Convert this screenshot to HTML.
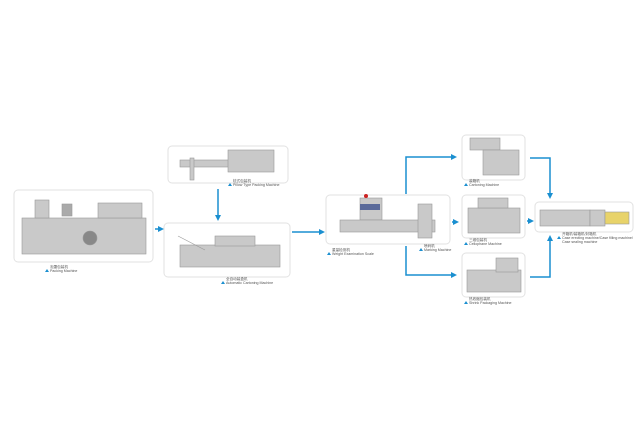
<!DOCTYPE html>
<html><head><meta charset="utf-8"><style>
html,body{margin:0;padding:0;background:#fff;}
svg{display:block;}
text{font-family:"Liberation Sans","Noto Sans CJK SC",sans-serif;font-size:3.6px;fill:#555;}
</style></head><body>
<svg width="640" height="440" viewBox="0 0 640 440" xmlns="http://www.w3.org/2000/svg">
<defs>
<marker id="a" markerWidth="6" markerHeight="6" refX="4" refY="3" orient="auto" markerUnits="userSpaceOnUse"><path d="M0,0 L6,3 L0,6 Z" fill="#1a8fd0"/></marker>
</defs>
<g fill="#fff" stroke="#e2e2e2" stroke-width="1">
<rect x="14" y="190" width="139" height="72" rx="4"/>
<rect x="168" y="146" width="120" height="37" rx="4"/>
<rect x="164" y="223" width="126" height="54" rx="4"/>
<rect x="326" y="195" width="124" height="49" rx="4"/>
<rect x="462" y="135" width="63" height="45" rx="4"/>
<rect x="462" y="195" width="63" height="43" rx="4"/>
<rect x="462" y="253" width="63" height="44" rx="4"/>
<rect x="535" y="202" width="98" height="30" rx="4"/>
</g>
<!-- machines -->
<g fill="#c9c9c9" stroke="#999" stroke-width="0.6">
<rect x="22" y="218" width="124" height="36"/>
<rect x="35" y="200" width="14" height="18"/><rect x="62" y="204" width="10" height="12" fill="#aaa"/>
<rect x="98" y="203" width="44" height="15"/>
<circle cx="90" cy="238" r="7" fill="#888"/>
<rect x="180" y="160" width="50" height="7"/><rect x="228" y="150" width="46" height="22"/>
<rect x="190" y="158" width="4" height="22"/>
<rect x="180" y="245" width="100" height="22"/><rect x="215" y="236" width="40" height="10"/>
<line x1="178" y1="236" x2="205" y2="250"/>
<rect x="360" y="198" width="22" height="22"/><rect x="340" y="220" width="95" height="12"/>
<rect x="418" y="204" width="14" height="34"/>
<rect x="470" y="138" width="30" height="12"/><rect x="483" y="150" width="36" height="25"/>
<rect x="468" y="208" width="52" height="25"/><rect x="478" y="198" width="30" height="10"/>
<rect x="467" y="270" width="54" height="22"/><rect x="496" y="258" width="22" height="14"/>
<rect x="540" y="210" width="50" height="16"/><rect x="590" y="210" width="15" height="16"/>
<rect x="605" y="212" width="24" height="12" fill="#e8d36a"/>
</g>
<rect x="360" y="204" width="20" height="6" fill="#5a6a9a"/>
<circle cx="366" cy="196" r="2" fill="#c22"/>
<!-- arrows -->
<g stroke="#1a8fd0" stroke-width="1.5" fill="none">
<line x1="155" y1="229" x2="162" y2="229" marker-end="url(#a)"/>
<line x1="218" y1="189" x2="218" y2="219" marker-end="url(#a)"/>
<line x1="292" y1="232" x2="323" y2="232" marker-end="url(#a)"/>
<polyline points="406,194 406,157 455,157" marker-end="url(#a)"/>
<polyline points="406,246 406,275 455,275" marker-end="url(#a)"/>
<line x1="452" y1="222" x2="457" y2="222" marker-end="url(#a)"/>
<polyline points="530,158 550,158 550,197" marker-end="url(#a)"/>
<line x1="527" y1="221" x2="532" y2="221" marker-end="url(#a)"/>
<polyline points="530,277 550,277 550,237" marker-end="url(#a)"/>
</g>
<!-- labels -->
<g>
<path d="M45,272 l2,-3 l2,3z M228,186 l2,-3 l2,3z M221,284 l2,-3 l2,3z M327,255 l2,-3 l2,3z M419,251 l2,-3 l2,3z M464,186 l2,-3 l2,3z M464,245 l2,-3 l2,3z M464,304 l2,-3 l2,3z M557,239 l2,-3 l2,3z" fill="#1a8fd0"/>
<text x="50" y="268">泡罩包装机</text><text x="50" y="272">Packing Machine</text>
<text x="233" y="182">枕式包装机</text><text x="233" y="186">Pillow Type Packing Machine</text>
<text x="226" y="280">全自动装盒机</text><text x="226" y="284">Automatic Cartoning Machine</text>
<text x="332" y="251">重量检测机</text><text x="332" y="255">Weight Examination Scale</text>
<text x="424" y="247">喷码机</text><text x="424" y="251">Marking Machine</text>
<text x="469" y="182">装箱机</text><text x="469" y="186">Cartoning Machine</text>
<text x="469" y="241">三维包装机</text><text x="469" y="245">Cellophane Machine</text>
<text x="469" y="300">热收缩包装机</text><text x="469" y="304">Shrink Packaging Machine</text>
<text x="562" y="235">开箱机/装箱机/封箱机</text><text x="562" y="239">Case erecting machine/Case filling machine/</text><text x="562" y="243">Case sealing machine</text>
</g>
</svg>
</body></html>
